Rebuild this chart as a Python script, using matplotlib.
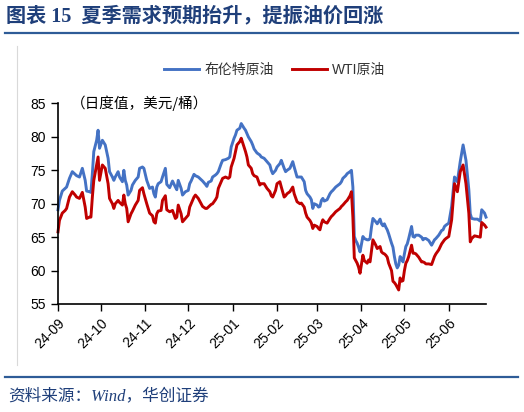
import pandas as pd
import matplotlib.pyplot as plt
from matplotlib.lines import Line2D

plt.rcParams['font.family'] = ['Liberation Sans', 'Noto Sans CJK SC', 'DejaVu Sans']

# daily prices, days counted from 2024-09-10
start = pd.Timestamp('2024-09-10')
day_offset = [
    0, 1, 3, 5, 6, 8, 10, 12, 13, 15,
    17, 19, 20, 22, 23, 24, 25, 27, 28, 29,
    31, 33, 35, 36, 38, 39, 40, 42, 43, 45,
    46, 47, 48, 49, 51, 52, 54, 56, 57, 59,
    60, 62, 64, 66, 67, 68, 69, 70, 72, 73,
    75, 76, 78, 80, 82, 83, 84, 86, 87, 89,
    91, 92, 93, 95, 96, 98, 100, 101, 103, 104,
    105, 107, 108, 110, 111, 112, 114, 115, 117, 119,
    120, 121, 123, 124, 125, 127, 128, 130, 131, 132,
    133, 135, 136, 137, 139, 141, 142, 144, 146, 148,
    149, 150, 152, 153, 155, 156, 158, 159, 160, 162,
    164, 165, 167, 169, 170, 172, 173, 174, 176, 177,
    178, 179, 181, 182, 183, 184, 185, 186, 188, 190,
    191, 192, 194, 197, 198, 199, 201, 202, 204, 205,
    206, 207, 208, 209, 210, 211, 213, 214, 216, 217,
    218, 219, 220, 222, 223, 225, 226, 227, 228, 229,
    230, 231, 233, 234, 235, 236, 237, 238, 239, 240,
    241, 242, 243, 244, 245, 247, 248, 249, 250, 252,
    254, 255, 256, 257, 259, 261, 263, 264, 266, 268,
    269, 270, 271, 273, 275, 277, 279, 281, 283, 285,
    287, 288, 289, 291, 293, 295, 296, 298, 299,
]

brent = [
    69.1, 70.5, 71.9, 72.3, 72.5, 73.8, 74.8, 74.4, 74.2, 74.0,
    75.3, 73.5, 71.9, 71.8, 71.7, 74.5, 77.8, 79.5, 81.0, 78.3,
    79.5, 78.8, 76.8, 74.8, 74.0, 73.5, 74.0, 74.8, 74.0, 73.3,
    75.0, 73.5, 72.8, 71.3, 72.0, 72.8, 73.5, 74.0, 75.3, 75.5,
    75.3, 73.5, 72.3, 72.5, 71.5, 71.0, 72.5, 73.0, 73.3, 74.0,
    75.3, 72.9, 72.4, 73.4, 72.5, 72.1, 73.5, 72.3, 71.3, 71.8,
    72.0, 73.0, 73.4, 74.4, 74.2, 74.0, 73.6, 73.4, 72.9, 72.6,
    73.2, 73.4, 74.0, 74.3, 74.5, 74.8, 76.0, 76.5, 76.6, 76.8,
    77.0, 78.5, 79.8, 80.3, 81.0, 81.3, 82.0, 81.3, 81.0, 80.5,
    80.0, 79.3, 78.8, 78.2, 77.6, 77.3, 77.0, 76.8, 76.3, 75.8,
    75.0, 74.5, 75.0, 75.5, 76.0, 76.5, 75.3, 74.8, 75.0, 75.3,
    76.3, 75.5, 74.0, 74.0, 74.0, 73.3, 72.0, 71.5, 71.0, 70.6,
    69.3, 70.0, 69.8, 69.5, 69.6, 70.5, 70.8, 70.4, 70.6, 71.5,
    71.8, 72.0, 72.5, 73.0, 73.3, 73.8, 74.2, 74.5, 74.8, 75.0,
    72.5, 65.1, 64.5, 64.1, 63.5, 62.8, 65.1, 64.8, 64.6, 64.6,
    64.8, 66.5, 67.8, 67.3, 67.0, 67.7, 67.0, 66.7, 67.0, 66.5,
    66.1, 65.5, 64.1, 63.5, 62.1, 61.0, 60.4, 60.8, 62.1, 61.8,
    61.3, 62.5, 63.6, 64.0, 64.8, 66.6, 65.1, 65.0, 65.3, 65.3,
    65.0, 64.6, 64.8, 64.8, 64.5, 63.8, 64.6, 64.8, 65.3, 66.0,
    66.1, 66.6, 66.8, 67.1, 69.6, 74.0, 73.3, 76.3, 78.8, 76.5,
    72.1, 68.5, 67.8, 67.7, 67.7, 67.4, 69.1, 68.6, 68.0,
]

wti = [
    65.8, 67.5, 68.6, 69.0, 69.3, 71.0, 71.8, 71.3, 71.0, 70.8,
    71.7, 69.5, 67.8, 68.0, 68.0, 71.0, 73.5, 75.8, 77.0, 73.5,
    75.8, 75.3, 73.0, 70.8, 70.0, 69.3, 70.0, 70.5, 70.2, 69.8,
    71.3, 70.0, 69.3, 67.3, 68.5, 68.9, 69.8, 70.5, 72.0, 72.4,
    71.5, 70.0, 68.6, 68.2, 67.3, 67.1, 68.5, 68.9, 69.0, 70.5,
    71.2, 69.1, 68.8, 69.0, 67.8, 68.0, 69.8, 68.5, 67.3, 67.8,
    68.3, 69.5, 70.0, 71.0, 71.3, 70.8, 70.0, 69.6, 69.3, 69.3,
    69.5, 69.9, 70.0, 70.6, 71.0, 72.3, 73.3, 73.8, 74.0, 73.8,
    74.0, 75.5, 76.8, 77.8, 78.8, 79.3, 79.8, 78.5, 77.8, 77.0,
    75.8, 75.3, 74.5, 74.2, 74.0, 72.8, 73.0, 73.0, 72.3, 71.8,
    71.2, 71.0, 72.0, 73.0, 73.3, 72.5, 71.0, 71.2, 71.5, 71.8,
    72.5, 71.5, 70.3, 70.0, 70.1, 69.5, 68.6, 68.0, 67.5, 67.1,
    66.3, 66.8, 66.6, 66.3, 66.1, 67.0, 67.6, 67.3, 67.1, 67.8,
    68.1, 68.3, 68.8, 69.3, 69.6, 69.8, 70.3, 70.5, 71.2, 71.8,
    68.0, 61.9, 61.5, 61.1, 60.5, 59.6, 62.3, 61.5, 61.1, 61.6,
    61.3, 63.0, 64.6, 63.8, 63.3, 63.6, 62.8, 62.6, 62.5, 62.3,
    62.0, 61.1, 60.0, 58.4, 58.2, 57.9, 57.5, 57.1, 58.9, 58.4,
    58.5, 60.0, 61.1, 61.5, 62.1, 63.8, 62.6, 62.6, 62.5, 62.0,
    61.3, 61.3, 61.2, 61.0, 61.0, 60.9, 62.1, 62.5, 63.1, 64.0,
    64.3, 64.6, 64.8, 65.1, 67.6, 73.0, 71.8, 74.8, 75.8, 73.0,
    68.6, 64.3, 64.8, 65.2, 65.1, 65.0, 67.2, 66.8, 66.5,
]

tick_dates = ['2024-09-10', '2024-10-10', '2024-11-10', '2024-12-10', '2025-01-10',
              '2025-02-10', '2025-03-10', '2025-04-10', '2025-05-10', '2025-06-10']
tick_labels = ['24-09', '24-10', '24-11', '24-12', '25-01',
               '25-02', '25-03', '25-04', '25-05', '25-06']

dates = start + pd.to_timedelta(day_offset, unit='D')

fig = plt.figure(figsize=(5.24, 4.12), dpi=100)
ax = fig.add_axes([58 / 524, 1 - 304 / 412, (486 - 58) / 524, (304 - 103.5) / 412])

ax.plot(dates, brent, color='#4472C4', lw=2.1, label='布伦特原油', clip_on=False)
ax.plot(dates, wti, color='#C00000', lw=2.1, label='WTI原油', clip_on=False)

ax.set_ylim(55, 85)
ax.set_yticks(range(55, 90, 5))
ax.set_xlim(dates[0], dates[-1])
ax.set_xticks(pd.to_datetime(tick_dates), tick_labels)
ax.tick_params(axis='both', labelsize=10, length=5, width=1, direction='out', color='black')
for lab in ax.get_xticklabels():
    lab.set_rotation(45)
    lab.set_ha('right')
    lab.set_rotation_mode('anchor')
for s in ['top', 'right']:
    ax.spines[s].set_visible(False)
for s in ['left', 'bottom']:
    ax.spines[s].set_linewidth(1.2)

ax.text(0.03, 1.0, '（日度值，美元/桶）', transform=ax.transAxes, fontsize=10.5,
        va='center', ha='left', family=['Noto Sans CJK SC'])

ax.legend(loc='center', bbox_to_anchor=(275 / 524, 1 - 70 / 412), bbox_transform=fig.transFigure,
          ncol=2, frameon=False, fontsize=10, handlelength=2.5, handletextpad=0.4,
          columnspacing=1.3, labelcolor='#333333')

title_color = '#1F3F7A'
fig.text(0.012, 1 - 16 / 412, '图表 15  夏季需求预期抬升，提振油价回涨', fontsize=14.5, weight='bold',
         color=title_color, va='center', ha='left', family=['Liberation Serif', 'Noto Sans CJK SC'])
fig.add_artist(Line2D([5 / 524, 518 / 524], [1 - 33 / 412] * 2, color='#2E5C97', lw=1.6))
fig.add_artist(Line2D([16.5 / 524] * 2, [1 - 46 / 412, 1 - 365 / 412], color='#D9D9D9', lw=0.8))
fig.add_artist(Line2D([5 / 524, 518 / 524], [1 - 377 / 412] * 2, color='#2E5C97', lw=1.6))
fig.text(0.015, 1 - 396 / 412, '资料来源：Wind，华创证券', fontsize=12, style='italic',
         color=title_color, va='center', ha='left', family=['Liberation Serif', 'Noto Sans CJK SC'])

fig.savefig('out.png', dpi=100)
